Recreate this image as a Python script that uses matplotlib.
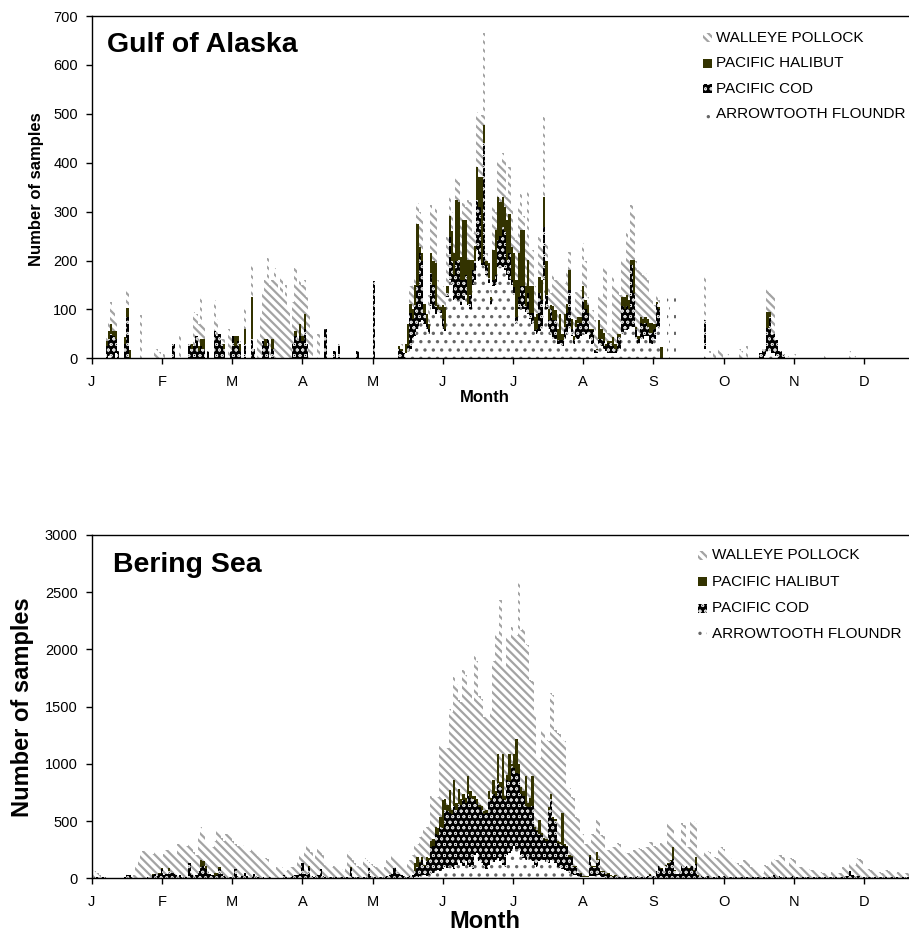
import numpy as np
import matplotlib
matplotlib.use("Agg")
import matplotlib.pyplot as plt
from matplotlib.patches import Rectangle

plt.rcParams['font.family'] = ['Liberation Sans', 'DejaVu Sans']

W, H = 909, 935  # output size in pixels

months = ['J', 'F', 'M', 'A', 'M', 'J', 'J', 'A', 'S', 'O', 'N', 'D']
species = ['WALLEYE POLLOCK', 'PACIFIC HALIBUT', 'PACIFIC COD', 'ARROWTOOTH FLOUNDR']

# ---------------- Gulf of Alaska (only days with samples, 0 = 1 Jan) ----------------
goa_day = ([6, 7, 8, 9, 10, 11, 14, 15, 16, 21, 27, 28, 29, 31, 35, 38, 42, 43, 44, 45,
            46, 47, 48, 50, 53, 54, 55, 56, 57, 59, 60, 61, 62, 63, 64, 66, 69, 70, 72, 73,
            74, 75, 76, 77, 78, 79, 80, 81, 82, 83, 84, 85, 86, 87, 88, 89, 90, 91, 92, 93,
            94, 95, 98, 101, 105, 107, 115, 122, 133, 134, 135, 136]
           + list(range(137, 248))
           + [250, 253, 266, 268, 270, 272, 273, 276, 281, 282, 284, 290, 291, 292, 293, 294,
              295, 296, 297, 298, 299, 300, 302, 305, 318, 329, 331])

goa_arrow = ([0, 5, 5, 0, 10, 0, 0, 0, 0, 0, 0, 0, 0, 0, 0, 0, 0, 0, 0, 0,
              0, 0, 0, 0, 0, 0, 0, 0, 0, 0, 0, 0, 0, 0, 0, 0, 0, 0, 0, 0,
              0, 0, 0, 0, 0, 0, 0, 0, 0, 0, 0, 0, 0, 0, 0, 0, 0, 0, 0, 0,
              0, 0, 0, 0, 0, 0, 0, 0, 0, 0, 0, 10]
             + [15, 20, 40, 45, 60, 75, 78, 70, 60, 50,
                106, 100, 90, 95, 92, 60, 55, 126, 160, 150,
                120, 119, 119, 110, 120, 130, 110, 100, 150, 160,
                221, 200, 190, 187, 170, 153, 110, 147, 150, 187,
                187, 187, 180, 170, 160, 150, 130, 70, 100, 106,
                100, 95, 90, 80, 70, 55, 50, 55, 60, 160,
                100, 60, 50, 40, 40, 30, 30, 25, 40, 50,
                60, 45, 30, 40, 40, 45, 51, 50, 51, 40,
                30, 10, 10, 30, 25, 20, 15, 10, 10, 10,
                10, 20, 20, 50, 58, 58, 60, 65, 65, 40,
                30, 40, 40, 45, 45, 30, 30, 40, 65, 60, 0]
             + [123, 130, 20, 10, 0, 0, 0, 0, 0, 0, 0, 0, 0, 5, 15, 15,
                10, 10, 5, 0, 0, 0, 0, 0, 0, 0, 0])

goa_cod = ([25, 35, 45, 45, 30, 15, 30, 85, 0, 0, 0, 0, 0, 0, 30, 0, 30, 20, 25, 45,
            15, 25, 20, 15, 55, 45, 50, 30, 20, 0, 15, 45, 25, 35, 15, 30, 40, 20, 0, 0,
            35, 25, 40, 0, 20, 0, 0, 0, 0, 0, 0, 0, 0, 30, 45, 35, 45, 35, 60, 30,
            0, 0, 0, 60, 15, 30, 15, 158, 20, 15, 10, 0]
           + [10, 72, 40, 65, 87, 140, 122, 22, 10, 10,
              68, 50, 16, 5, 7, 20, 5, 7, 89, 50,
              50, 81, 82, 50, 40, 40, 2, 30, 30, 40,
              103, 110, 4, 253, 20, 12, 9, 13, 20, 55,
              63, 82, 80, 31, 55, 10, 15, 15, 26, 41,
              47, 11, 43, 12, 22, 3, 10, 78, 60, 109,
              30, 18, 50, 38, 38, 7, 7, 12, 25, 42,
              80, 15, 7, 25, 32, 27, 75, 50, 41, 18,
              28, 7, 7, 10, 15, 15, 10, 21, 21, 15,
              10, 24, 24, 56, 42, 48, 40, 126, 68, 20,
              10, 32, 30, 27, 20, 21, 21, 20, 47, 40, 0]
           + [0, 0, 58, 0, 0, 0, 0, 0, 0, 0, 0, 10, 20, 15, 46, 70,
              40, 40, 32, 15, 15, 8, 0, 0, 0, 0, 0])

goa_halibut = ([10, 15, 20, 10, 15, 0, 14, 17, 16, 0, 0, 0, 0, 0, 0, 0, 0, 10, 0, 0,
                10, 15, 20, 0, 0, 0, 0, 0, 10, 0, 0, 0, 20, 10, 15, 30, 85, 0, 0, 0,
                0, 15, 0, 0, 20, 0, 0, 0, 0, 0, 0, 0, 0, 0, 10, 0, 25, 10, 30, 0,
                0, 0, 0, 0, 0, 0, 0, 0, 5, 5, 0, 20]
               + [45, 20, 20, 40, 128, 13, 15, 20, 20, 10,
                  41, 50, 88, 10, 6, 30, 45, 14, 41, 60,
                  45, 124, 119, 48, 123, 113, 89, 71, 21, 30,
                  68, 61, 177, 37, 10, 29, 6, 61, 92, 88,
                  70, 61, 50, 82, 81, 68, 70, 75, 89, 115,
                  115, 41, 68, 55, 55, 27, 30, 34, 40, 61,
                  70, 22, 10, 28, 21, 23, 53, 13, 25, 20,
                  41, 20, 8, 13, 13, 13, 21, 20, 18, 2,
                  2, 0, 3, 38, 20, 16, 5, 4, 4, 19,
                  10, 6, 6, 20, 26, 24, 20, 10, 68, 5,
                  5, 13, 10, 13, 15, 21, 21, 10, 3, 5, 24]
               + [0, 0, 0, 0, 0, 0, 0, 0, 0, 0, 0, 0, 0, 0, 34, 10,
                  0, 0, 0, 0, 0, 0, 0, 0, 0, 0, 0])

goa_pollock = ([10, 20, 45, 45, 25, 0, 0, 38, 0, 89, 20, 18, 12, 8, 0, 45, 0, 0, 70, 45,
                45, 90, 30, 0, 65, 35, 0, 10, 10, 60, 30, 0, 0, 0, 5, 40, 70, 0, 40, 90,
                100, 120, 165, 150, 120, 185, 160, 140, 165, 130, 150, 100, 60, 85, 130, 115, 95, 105, 70, 95,
                90, 50, 50, 0, 0, 0, 0, 0, 5, 10, 0, 0]
               + [0, 35, 50, 15, 42, 72, 75, 0, 0, 60,
                  98, 100, 116, 50, 45, 37, 35, 102, 47, 40,
                  27, 47, 40, 82, 34, 27, 123, 119, 55, 30,
                  112, 123, 126, 188, 15, 0, 15, 89, 38, 75,
                  80, 89, 100, 47, 96, 75, 41, 82, 95, 75,
                  28, 102, 140, 74, 74, 62, 30, 82, 70, 164,
                  40, 47, 23, 68, 61, 100, 63, 107, 63, 68,
                  37, 19, 54, 58, 55, 55, 88, 80, 16, 39,
                  39, 61, 31, 48, 66, 136, 157, 16, 16, 123,
                  120, 90, 80, 75, 68, 126, 120, 112, 99, 135,
                  136, 96, 90, 89, 80, 54, 48, 40, 18, 15, 0]
               + [0, 0, 89, 5, 15, 18, 12, 8, 20, 15, 25, 0, 0, 0, 48, 38,
                  83, 83, 0, 0, 0, 0, 5, 8, 5, 15, 5])

# ---------------- Bering Sea (every day, 0 = 1 Jan) ----------------
bs_day = list(range(356))

bs_arrow = [0, 0, 0, 0, 0, 0, 0, 0, 0, 0,  0, 0, 0, 0, 0, 0, 0, 0, 0, 0,
            0, 0, 0, 0, 0, 0, 0, 0, 0, 0,  0, 0, 0, 0, 0, 0, 0, 0, 0, 0,
            0, 0, 0, 0, 0, 0, 0, 0, 0, 0,  0, 0, 0, 0, 0, 0, 0, 0, 0, 0,
            0, 0, 0, 0, 0, 0, 0, 0, 0, 0,  0, 0, 0, 0, 0, 0, 0, 0, 0, 0,
            0, 0, 0, 0, 0, 0, 0, 0, 0, 0,  0, 0, 0, 0, 0, 0, 0, 0, 0, 0,
            0, 0, 0, 0, 0, 0, 0, 0, 0, 0,  0, 0, 0, 0, 0, 0, 0, 0, 0, 0,
            0, 0, 0, 0, 0, 0, 0, 0, 0, 0,  0, 0, 0, 0, 0, 0, 0, 0, 0, 0,
            10, 15, 20, 25, 30, 20, 30, 40, 50, 60,
            70, 60, 80, 100, 90, 120, 100, 80, 120, 150,
            130, 110, 150, 120, 100, 80, 200, 220, 150, 130,
            100, 80, 120, 150, 140, 160, 180, 150, 120, 100,
            200, 220, 240, 280, 260, 250, 200, 180, 160, 190,
            170, 150, 120, 100, 150, 160, 160, 140, 130, 160,
            150, 130, 100, 90, 80, 70, 60, 50, 40, 30,
            25, 20, 15, 10, 10, 10, 20, 20, 20, 30,
            30, 15, 10, 5, 5, 5, 5, 5, 5, 5,
            3, 3, 3, 3, 3, 3, 3, 3, 3, 3,
            3, 3, 3, 3, 3, 5, 5, 5, 5, 5,
            5, 5, 5, 5, 5, 5, 5, 5, 5, 5,
            5, 5, 5, 3, 3, 3, 3, 3, 3, 3,
            2, 2, 2, 2, 2, 2, 2, 2, 2, 2,  2, 2, 2, 2, 2, 2, 2, 2, 2, 2,
            2, 2, 2, 2, 2, 2, 2, 2, 2, 2,  2, 2, 2, 2, 2, 2, 2, 2, 2, 2,
            2, 2, 2, 2, 2, 2, 2, 2, 2, 2,  2, 2, 2, 2, 2, 2, 2, 2, 2, 2,
            2, 2, 2, 2, 2, 2, 2, 2, 2, 2,  2, 2, 2, 2, 2, 2, 2, 2, 2, 2,
            2, 2, 2, 2, 2, 2]

bs_cod = [0, 15, 10, 8, 10, 8, 0, 0, 5, 0,
          5, 0, 0, 0, 10, 30, 25, 10, 0, 5,
          0, 0, 0, 5, 10, 15, 30, 35, 20, 40,
          85, 30, 40, 60, 45, 50, 30, 20, 25, 15,
          10, 15, 130, 25, 20, 30, 60, 100, 110, 80,
          60, 40, 30, 20, 30, 80, 40, 20, 15, 10,
          15, 20, 80, 20, 15, 20, 50, 20, 15, 10,
          40, 20, 10, 8, 10, 5, 5, 10, 5, 0,
          10, 5, 0, 30, 10, 10, 15, 20, 25, 30,
          40, 130, 40, 30, 100, 20, 15, 20, 25, 80,
          20, 10, 10, 8, 10, 8, 10, 15, 10, 20,
          10, 15, 90, 15, 10, 8, 10, 10, 15, 20,
          90, 20, 15, 10, 8, 10, 15, 10, 20, 25,
          40, 95, 60, 40, 30, 20, 10, 15, 20, 25,
          50, 85, 110, 135, 80, 130, 130, 230, 230, 330,
          310, 390, 360, 500, 500, 450, 460, 550, 480, 500,
          510, 570, 510, 620, 600, 610, 480, 430, 470, 470,
          460, 490, 570, 530, 600, 560, 650, 650, 570, 580,
          660, 630, 740, 680, 660, 660, 540, 540, 470, 430,
          450, 480, 310, 310, 240, 220, 180, 190, 470, 530,
          370, 370, 210, 210, 210, 210, 210, 140, 145, 70,
          75, 24, 25, 5, 5, 5, 170, 80, 80, 130,
          130, 43, 48, 25, 35, 15, 10, 15, 5, 5,
          10, 15, 20, 10, 5, 5, 10, 15, 10, 5,
          10, 15, 30, 10, 20, 60, 100, 80, 40, 100,
          120, 150, 160, 60, 30, 40, 100, 90, 100, 80,
          100, 60, 120, 20, 15, 10, 10, 15, 10, 10,
          10, 15, 20, 10, 15, 10, 8, 10, 5, 5,
          5, 10, 5, 10, 5, 5, 5, 10, 5, 5,
          5, 5, 10, 10, 5, 20, 30, 10, 15, 10,
          10, 5, 5, 10, 20, 10, 5, 5, 5, 5,
          5, 5, 5, 5, 5, 5, 5, 5, 5, 5,
          5, 5, 5, 5, 5, 5, 10, 20, 15, 60,
          30, 20, 15, 20, 10, 10, 5, 10, 5, 5,
          5, 10, 5, 5, 10, 5, 5, 5, 5, 5,
          5, 5, 10, 5, 5, 5]

bs_halibut = [0, 0, 0, 0, 0, 0, 0, 0, 0, 0,  0, 0, 0, 0, 0, 0, 0, 0, 0, 0,
              0, 0, 0, 0, 0, 0, 5, 0, 0, 5,  5, 0, 0, 30, 0, 0, 0, 0, 0, 0,
              0, 0, 0, 0, 0, 0, 0, 60, 40, 30,  0, 0, 0, 30, 20, 20, 0, 0, 0, 0,
              0, 0, 0, 0, 0, 0, 0, 0, 0, 0,  0, 0, 0, 0, 0, 0, 0, 0, 0, 0,
              0, 0, 0, 0, 0, 0, 0, 0, 0, 0,  0, 0, 0, 0, 10, 0, 0, 0, 0, 0,
              0, 0, 0, 0, 0, 0, 0, 0, 0, 0,  0, 0, 5, 0, 0, 0, 0, 0, 0, 0,
              0, 0, 0, 0, 0, 0, 0, 0, 0, 0,  0, 5, 0, 0, 0, 0, 0, 0, 0, 0,
              70, 85, 10, 25, 10, 40, 20, 60, 60, 60,
              60, 90, 240, 90, 50, 200, 40, 230, 60, 130,
              50, 60, 40, 150, 60, 30, 40, 40, 20, 30,
              30, 30, 70, 20, 120, 40, 260, 40, 400, 40,
              40, 240, 20, 130, 300, 90, 60, 40, 260, 40,
              80, 260, 20, 10, 120, 20, 10, 10, 20, 50,
              20, 20, 20, 20, 280, 20, 10, 10, 10, 10,
              10, 6, 5, 5, 5, 5, 10, 5, 5, 73,
              10, 2, 2, 5, 5, 5, 5, 5, 5, 5,
              0, 0, 0, 0, 0, 0, 0, 0, 0, 0,
              0, 0, 5, 0, 0, 0, 5, 5, 0, 10,
              10, 5, 110, 5, 5, 5, 5, 5, 5, 5,
              5, 5, 60, 2, 2, 2, 0, 0, 0, 0,
              0, 0, 0, 0, 0, 0, 0, 0, 0, 0,  0, 0, 0, 0, 0, 0, 0, 0, 0, 0,
              0, 0, 0, 0, 0, 0, 0, 0, 0, 0,  0, 0, 0, 0, 0, 0, 0, 0, 0, 0,
              0, 0, 0, 0, 0, 0, 0, 0, 0, 0,  0, 0, 0, 0, 0, 0, 0, 0, 0, 0,
              0, 0, 0, 0, 0, 0, 0, 0, 0, 0,  0, 0, 0, 0, 0, 0, 0, 0, 0, 0,
              0, 0, 0, 0, 0, 0]

bs_pollock = [70, 45, 35, 17, 0, 0, 5, 5, 0, 5,
              0, 3, 2, 3, 0, 25, 15, 10, 25, 105,
              160, 200, 235, 245, 225, 190, 180, 200, 200, 155,
              95, 180, 205, 170, 195, 180, 185, 280, 295, 275,
              255, 265, 175, 265, 210, 170, 320, 290, 250, 210,
              240, 235, 240, 280, 360, 300, 310, 310, 375, 395,
              355, 310, 220, 260, 290, 270, 210, 210, 225, 260,
              215, 205, 185, 172, 160, 170, 165, 110, 75, 65,
              90, 110, 100, 45, 50, 60, 85, 75, 95, 140,
              165, 60, 210, 270, 180, 210, 160, 180, 235, 170,
              180, 105, 90, 82, 85, 102, 110, 85, 70, 40,
              105, 225, 120, 145, 120, 102, 90, 100, 160, 140,
              50, 105, 95, 85, 92, 85, 70, 85, 140, 115,
              165, 95, 105, 100, 100, 100, 90, 115, 140, 175,
              150, 115, 220, 195, 300, 260, 290, 390, 360, 240,
              270, 620, 470, 430, 500, 710, 850, 900, 1040, 780,
              850, 1080, 1080, 770, 880, 810, 1220, 1210, 950, 940,
              820, 820, 630, 770, 1040, 1380, 1010, 1590, 760, 1110,
              1210, 1010, 1200, 1050, 910, 1600, 1370, 1440, 1160, 1380,
              1030, 830, 990, 640, 540, 900, 940, 870, 580, 880,
              1060, 780, 940, 940, 640, 900, 520, 590, 515, 590,
              430, 480, 345, 365, 280, 290, 100, 285, 275, 277,
              330, 320, 310, 215, 200, 215, 256, 245, 290, 285,
              222, 212, 202, 207, 207, 242, 232, 244, 242, 242,
              263, 252, 282, 302, 257, 211, 160, 215, 255, 185,
              345, 310, 175, 265, 290, 270, 370, 370, 166, 180,
              399, 430, 295, 193, 190, 185, 234, 222, 217, 176,
              173, 163, 254, 258, 243, 177, 175, 168, 139, 133,
              123, 105, 108, 148, 148, 143, 95, 88, 88, 51,
              48, 43, 105, 98, 93, 153, 138, 148, 187, 188,
              178, 95, 93, 163, 148, 148, 95, 93, 88, 80,
              78, 73, 66, 63, 58, 51, 48, 43, 37, 35,
              33, 51, 48, 43, 37, 35, 90, 78, 78, 69,
              93, 98, 158, 148, 148, 75, 78, 68, 66, 63,
              58, 46, 48, 43, 61, 63, 58, 51, 48, 43,
              51, 48, 38, 37, 35, 33]

# bar styles, bottom of the stack first
styles = {
    'ARROWTOOTH FLOUNDR': dict(facecolor='white', edgecolor='#666666', hatch='..'),
    'PACIFIC COD': dict(facecolor='black', edgecolor='#d8d8d8', hatch='ooo'),
    'PACIFIC HALIBUT': dict(facecolor='#333300', edgecolor='#333300'),
    'WALLEYE POLLOCK': dict(facecolor='white', edgecolor='#a3a3a3', hatch='\\\\\\\\'),
}
# hatch line width per species
hatch_lw = {'ARROWTOOTH FLOUNDR': 1.2, 'PACIFIC COD': 0.6,
            'PACIFIC HALIBUT': 1.0, 'WALLEYE POLLOCK': 1.6}


def fx(px):
    return px / W


def fy(py):
    return 1 - py / H


def set_hlw(patch, lw):
    if hasattr(patch, 'set_hatch_linewidth'):
        patch.set_hatch_linewidth(lw)
    else:
        patch._hatch_linewidth = lw


def draw_panel(ax, days, arrow, cod, halibut, pollock, ymax, ystep):
    x = np.asarray(days) + 0.5
    base = np.zeros(len(x))
    for name, vals in [('ARROWTOOTH FLOUNDR', arrow), ('PACIFIC COD', cod),
                       ('PACIFIC HALIBUT', halibut), ('WALLEYE POLLOCK', pollock)]:
        vals = np.asarray(vals, dtype=float)
        with plt.rc_context({'hatch.linewidth': hatch_lw[name]}):
            bars = ax.bar(x, vals, width=1.0, bottom=base, linewidth=0,
                          antialiased=False, **styles[name])
            for b in bars:
                set_hlw(b, hatch_lw[name])
        base = base + vals
    ax.set_xlim(0, 355)
    ax.set_ylim(0, ymax)
    ax.set_yticks(np.arange(0, ymax + 1, ystep))
    ax.set_xticks(np.arange(12) * 30.5)
    ax.set_xticklabels(months)
    ax.spines['right'].set_visible(False)
    for s in ['left', 'bottom', 'top']:
        ax.spines[s].set_linewidth(1.0)
        ax.spines[s].set_color('black')
    ax.tick_params(axis='y', direction='out', length=4, width=1, pad=6, labelsize=10.5)
    ax.tick_params(axis='x', direction='out', length=4, width=1, pad=8, labelsize=10.5)


def draw_legend(fig, xp, xt, rows):
    for name, y in zip(species, rows):
        with plt.rc_context({'hatch.linewidth': hatch_lw[name]}):
            r = Rectangle((fx(xp), fy(y + 4.5)), 9 / W, 9 / H,
                          transform=fig.transFigure, linewidth=0,
                          antialiased=False, **styles[name])
            set_hlw(r, hatch_lw[name])
        fig.add_artist(r)
        fig.text(fx(xt), fy(y), name, fontsize=11, va='center', ha='left')


fig = plt.figure(figsize=(W / 100, H / 100), dpi=100)

ax1 = fig.add_axes([fx(91.7), fy(358.3), fx(909 - 91.7), (358.3 - 16) / H])
draw_panel(ax1, goa_day, goa_arrow, goa_cod, goa_halibut, goa_pollock, 700, 100)

ax2 = fig.add_axes([fx(91.7), fy(878.3), fx(909 - 91.7), (878.3 - 535) / H])
draw_panel(ax2, bs_day, bs_arrow, bs_cod, bs_halibut, bs_pollock, 3000, 500)

# panel titles
fig.text(fx(107), fy(52.3), 'Gulf of Alaska', fontsize=20.5, fontweight='bold', va='baseline')
fig.text(fx(113), fy(571.7), 'Bering Sea', fontsize=20.5, fontweight='bold', va='baseline')

# axis titles
fig.text(fx(36.5), fy(189), 'Number of samples', fontsize=12, fontweight='bold',
         rotation=90, ha='center', va='center')
fig.text(fx(485), fy(398), 'Month', fontsize=12, fontweight='bold', ha='center', va='center')
fig.text(fx(22.5), fy(707), 'Number of samples', fontsize=17, fontweight='bold',
         rotation=90, ha='center', va='center')
fig.text(fx(485), fy(922), 'Month', fontsize=17, fontweight='bold', ha='center', va='center')

draw_legend(fig, 703, 716, [37.7, 63.3, 88.7, 114.3])
draw_legend(fig, 698, 712, [555, 581.7, 608.3, 634.3])

fig.savefig('out.png', dpi=100)
